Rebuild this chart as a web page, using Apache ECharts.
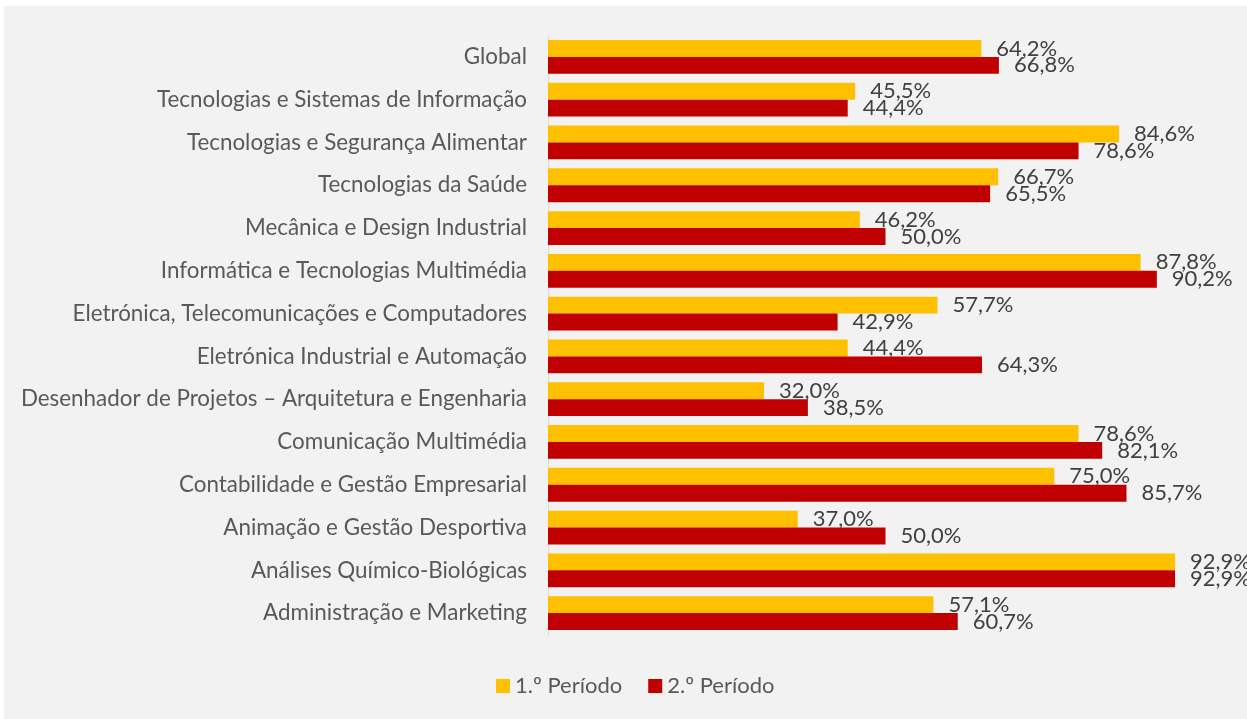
<!DOCTYPE html>
<html>
<head>
<meta charset="utf-8">
<script src="https://cdn.jsdelivr.net/npm/echarts@6/dist/echarts.min.js"></script>
<style>
html,body{margin:0;padding:0;background:#ffffff;}
#main{width:1247px;height:719px;}
</style>
</head>
<body>
<div id="main"></div>
<script>
const categories = [
  'Global',
  'Tecnologias e Sistemas de Informação',
  'Tecnologias e Segurança Alimentar',
  'Tecnologias da Saúde',
  'Mecânica e Design Industrial',
  'Informática e Tecnologias Multimédia',
  'Eletrónica, Telecomunicações e Computadores',
  'Eletrónica Industrial e Automação',
  'Desenhador de Projetos – Arquitetura e Engenharia',
  'Comunicação Multimédia',
  'Contabilidade e Gestão Empresarial',
  'Animação e Gestão Desportiva',
  'Análises Químico-Biológicas',
  'Administração e Marketing'
];
const periodo1 = [64.2, 45.5, 84.6, 66.7, 46.2, 87.8, 57.7, 44.4, 32.0, 78.6, 75.0, 37.0, 92.9, 57.1];
const periodo2 = [66.8, 44.4, 78.6, 65.5, 50.0, 90.2, 42.9, 64.3, 38.5, 82.1, 85.7, 50.0, 92.9, 60.7];
const seriesNames = ['1.º Período', '2.º Período'];

const chart = echarts.init(document.getElementById('main'), null, {renderer: 'canvas'});
const fmt = p => p.value.toFixed(1).replace('.', ',') + '%';
const labelStyle = {
  show: true, position: 'right', distance: 15, formatter: fmt,
  color: '#404040', fontFamily: 'Lato', fontSize: 22
};
chart.setOption({
  backgroundColor: '#ffffff',
  animation: false,
  graphic: [{
    type: 'rect', z: -10, silent: true,
    shape: {x: 4, y: 6, width: 1243, height: 713},
    style: {fill: '#f2f2f2'}
  }],
  grid: {left: 548, right: 24, top: 35.5, bottom: 84.5, containLabel: false},
  legend: {
    data: seriesNames,
    bottom: 17, left: 491,
    icon: 'rect', itemWidth: 14, itemHeight: 14, itemGap: 26,
    textStyle: {color: '#595959', fontFamily: 'Lato', fontSize: 22}
  },
  xAxis: {
    type: 'value', min: 0, max: 100,
    show: false
  },
  yAxis: {
    type: 'category', data: categories, inverse: true,
    axisLine: {show: true, lineStyle: {color: '#d9d9d9', width: 1}},
    axisTick: {show: false},
    axisLabel: {color: '#595959', fontFamily: 'Lato', fontSize: 22.4, margin: 21}
  },
  series: [
    {name: seriesNames[0], type: 'bar', data: periodo1, barGap: '0%', barCategoryGap: '21%',
     itemStyle: {color: '#FFC000'}, label: labelStyle},
    {name: seriesNames[1], type: 'bar', data: periodo2, barGap: '0%', barCategoryGap: '21%',
     itemStyle: {color: '#C00000'}, label: labelStyle}
  ]
});
</script>
</body>
</html>
